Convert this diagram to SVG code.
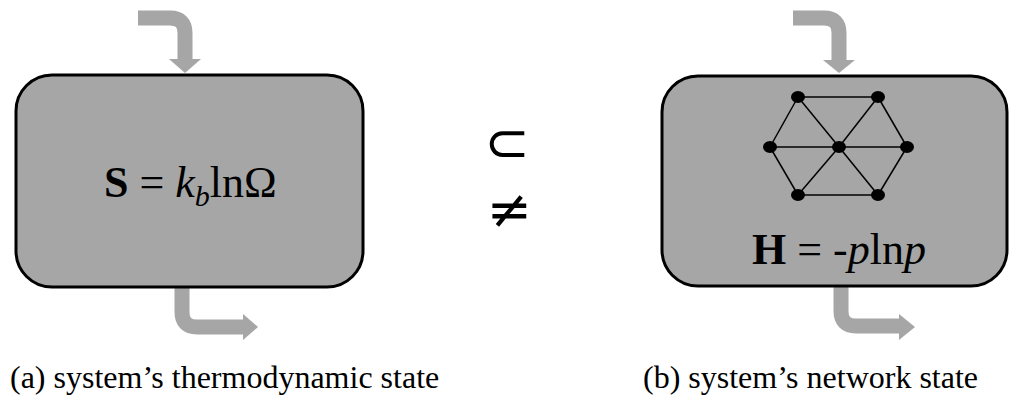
<svg xmlns="http://www.w3.org/2000/svg" width="1009" height="399" viewBox="0 0 1009 399">
<style>
.box{fill:#a6a6a6;stroke:#000;stroke-width:3}
.flow{fill:none;stroke:#a6a6a6;stroke-width:15}
.head{fill:#a6a6a6}
.edge{stroke:#000;stroke-width:1.5}
.dot{fill:#000}
.eq{font-family:"Liberation Serif",serif;font-size:44px;fill:#000}
.cap{font-family:"Liberation Serif",serif;font-size:32px;fill:#000}
.sym{font-family:"DejaVu Sans",sans-serif;font-size:54px;fill:#000}
</style>
<g id="connectors">
<path class="flow" d="M138,18 H170 Q185,18 185,33 V60"/>
<polygon class="head" points="169,59 201,59 185,73"/>
<path class="flow" d="M182,288 V312 Q182,327 197,327 H244"/>
<polygon class="head" points="243,314 243,340 258,327"/>
<path class="flow" d="M793,18 H824 Q839,18 839,33 V61"/>
<polygon class="head" points="823,60 855,60 839,73"/>
<path class="flow" d="M841,287 V311 Q841,326 856,326 H900"/>
<polygon class="head" points="899,314 899,340 915,327"/>
</g>
<g id="node-a">
<rect class="box" x="16" y="75" width="347" height="212" rx="36" ry="36"/>
<text class="eq" x="104" y="197"><tspan font-weight="bold">S</tspan> = <tspan font-style="italic">k</tspan><tspan font-style="italic" font-size="30" dy="9">b</tspan><tspan dy="-9">lnΩ</tspan></text>
</g>
<g id="node-b">
<rect class="box" x="662" y="76" width="345" height="210" rx="36" ry="36"/>
<g id="network">
<line class="edge" x1="798" y1="97" x2="878" y2="97"/>
<line class="edge" x1="798" y1="97" x2="770" y2="147"/>
<line class="edge" x1="798" y1="97" x2="839" y2="147"/>
<line class="edge" x1="878" y1="97" x2="839" y2="147"/>
<line class="edge" x1="878" y1="97" x2="907" y2="147"/>
<line class="edge" x1="770" y1="147" x2="907" y2="147"/>
<line class="edge" x1="770" y1="147" x2="798" y2="195"/>
<line class="edge" x1="839" y1="147" x2="798" y2="195"/>
<line class="edge" x1="839" y1="147" x2="878" y2="195"/>
<line class="edge" x1="907" y1="147" x2="878" y2="195"/>
<line class="edge" x1="798" y1="195" x2="878" y2="195"/>
<ellipse class="dot" cx="798" cy="97" rx="7" ry="6"/>
<ellipse class="dot" cx="878" cy="97" rx="7" ry="6"/>
<ellipse class="dot" cx="770" cy="147" rx="7" ry="6"/>
<ellipse class="dot" cx="839" cy="147" rx="7" ry="6"/>
<ellipse class="dot" cx="907" cy="147" rx="7" ry="6"/>
<ellipse class="dot" cx="798" cy="195" rx="7" ry="6"/>
<ellipse class="dot" cx="878" cy="195" rx="7" ry="6"/>
</g>
<text class="eq" x="752" y="264"><tspan font-weight="bold">H</tspan> = -<tspan font-style="italic">p</tspan>ln<tspan font-style="italic">p</tspan></text>
</g>
<g id="relations">
<text class="sym" x="507" y="161" text-anchor="middle">⊂</text>
<text class="sym" x="509" y="228" text-anchor="middle">≠</text>
</g>
<text class="cap" x="10" y="388">(a) system’s thermodynamic state</text>
<text class="cap" x="643" y="388">(b) system’s network state</text>
</svg>
